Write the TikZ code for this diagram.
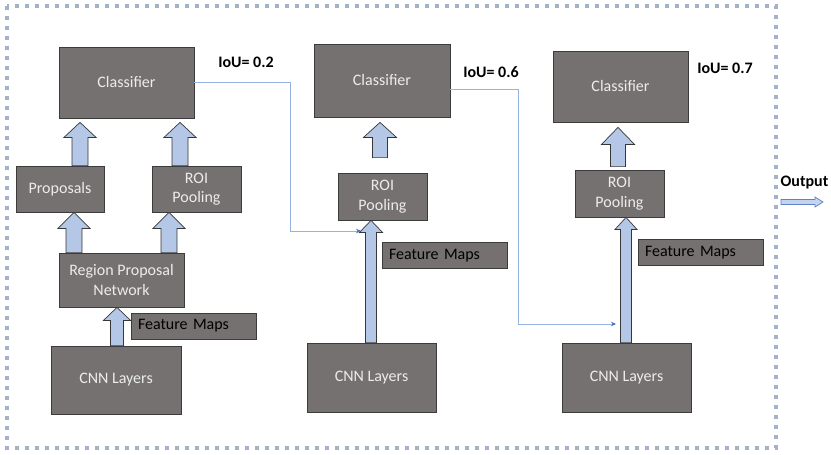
\documentclass[tikz,border=0pt]{standalone}
\usepackage{fontspec}
\setmainfont{Carlito}
\usetikzlibrary{arrows.meta,calc}

\definecolor{boxfill}{RGB}{117,113,112}
\definecolor{boxline}{RGB}{60,60,60}
\definecolor{boxtext}{RGB}{236,236,236}
\definecolor{arrowfill}{RGB}{180,199,231}
\definecolor{arrowline}{RGB}{55,55,55}
\definecolor{connline}{RGB}{150,178,226}
\definecolor{conntip}{RGB}{68,114,196}
\definecolor{frame}{RGB}{163,177,201}
\definecolor{outfill}{RGB}{196,212,238}
\definecolor{outline}{RGB}{96,130,196}

\tikzset{
  box/.style={draw=boxline, line width=0.8pt, fill=boxfill, text=boxtext,
    inner sep=0pt, align=center, font=\fontsize{16}{19.5}\selectfont},
  fmbox/.style={draw=boxline, line width=0.6pt, fill=boxfill, text=black,
    inner xsep=7pt, inner ysep=0pt, text width=111pt, align=left,
    minimum height=26pt, font=\fontsize{16}{19.5}\selectfont},
  iou/.style={font=\fontsize{16}{19.5}\selectfont\bfseries, inner sep=0pt},
  % vertical block arrow: shaft half width, head half width, head length,
  % gap at the tail, gap at the tip
  barrow/.style n args={5}{draw=arrowline, fill=arrowfill, line width=0.7pt,
    line join=miter,
    to path={let \p1=(\tikztostart), \p2=(\tikztotarget) in
      (\x1-#1pt,\y1+#4pt) -- (\x1-#1pt,\y2-#5pt-#3pt) -- (\x1-#2pt,\y2-#5pt-#3pt)
      -- (\x1,\y2-#5pt) -- (\x1+#2pt,\y2-#5pt-#3pt) -- (\x1+#1pt,\y2-#5pt-#3pt)
      -- (\x1+#1pt,\y1+#4pt) -- cycle}},
  conn/.style={draw=connline, line width=0.9pt,
    -{Stealth[length=5pt,width=4.5pt,color=conntip]}},
}

\begin{document}
\begin{tikzpicture}[x=1pt,y=-1pt]
\useasboundingbox (0,0) rectangle (831,455);

% dotted outer frame
\draw[frame, line width=3.6pt, dash pattern=on 3.6pt off 6.4pt]
  (7,6) rectangle (776,448);

% ---- stage 1 ----
\node[box, minimum width=135pt, minimum height=71pt] (cls1) at (126.5,82.5) {Classifier};
\node[box, minimum width=88pt, minimum height=46pt] (prop) at (60,189) {Proposals};
\node[box, minimum width=89pt, minimum height=46pt] (roi1) at (196.5,189) {ROI\\Pooling};
\node[box, minimum width=125pt, minimum height=54pt] (rpn) at (121.5,280) {Region Proposal\\Network};
\node[fmbox] (fm1) at (193.5,326) {Feature Maps};
\node[box, minimum width=130pt, minimum height=68pt] (cnn1) at (116,380) {CNN Layers};

% ---- stage 2 ----
\node[box, minimum width=136pt, minimum height=73pt] (cls2) at (382,80.5) {Classifier};
\node[box, minimum width=89pt, minimum height=47pt] (roi2) at (382.5,196.5) {ROI\\Pooling};
\node[fmbox] (fm2) at (444.5,255.5) {Feature Maps};
\node[box, minimum width=129pt, minimum height=69pt] (cnn2) at (371.5,377.5) {CNN Layers};

% ---- stage 3 ----
\node[box, minimum width=135pt, minimum height=71pt] (cls3) at (620.5,86.5) {Classifier};
\node[box, minimum width=89pt, minimum height=47pt] (roi3) at (619.5,193.5) {ROI\\Pooling};
\node[fmbox] (fm3) at (700.5,252.5) {Feature Maps};
\node[box, minimum width=129pt, minimum height=69pt] (cnn3) at (626.5,377.5) {CNN Layers};

% IoU thresholds
\node[iou] (iou1) at (246,62) {IoU= 0.2};
\node[iou] (iou2) at (491,72) {IoU= 0.6};
\node[iou] (iou3) at (725,68) {IoU= 0.7};
\node[iou] (out) at (804.5,183) {Output};

% block arrows, stage 1
\path[barrow={8}{16}{15}{0}{4}] (80,0 |- prop.north) to (80,0 |- cls1.south);
\path[barrow={8}{16}{15}{0}{4}] (180,0 |- roi1.north) to (180,0 |- cls1.south);
\path[barrow={8}{16}{16}{0}{0}] (74,0 |- rpn.north) to (74,0 |- prop.south);
\path[barrow={8}{16}{16}{0}{0}] (169,0 |- rpn.north) to (169,0 |- roi1.south);
\path[barrow={6.5}{13.5}{13}{0}{0}] (117,0 |- cnn1.north) to (117,0 |- rpn.south);

% block arrows, stage 2
\path[barrow={7.5}{16.5}{15}{15}{5}] (380,0 |- roi2.north) to (380,0 |- cls2.south);
\path[barrow={5.5}{11.5}{12}{0}{0}] (371,0 |- cnn2.north) to (371,0 |- roi2.south);

% block arrows, stage 3
\path[barrow={7.5}{16.5}{17}{3}{5}] (618,0 |- roi3.north) to (618,0 |- cls3.south);
\path[barrow={5.5}{11}{12}{0}{0}] (626,0 |- cnn3.north) to (626,0 |- roi3.south);

% detections passed on to the next stage
\coordinate (c1mid) at (290,231);
\coordinate (c1end) at (361,231);
\coordinate (c2mid) at (518,324);
\coordinate (c2end) at (616,324);
\draw[conn] (cls1.east) -| (c1mid) -- (c1end);
\draw[conn] ([yshift=-8.5pt]cls2.east) -| (c2mid) -- (c2end);

% output arrow
\coordinate (outtail) at (781,202);
\draw[draw=outline, fill=outfill, line width=0.7pt, line join=miter]
  (outtail) ++(0,-2.5) -- ++(34,0) -- ++(0,-2.5) -- ++(8,5) -- ++(-8,5)
  -- ++(0,-2.5) -- ++(-34,0) -- cycle;
\end{tikzpicture}
\end{document}
